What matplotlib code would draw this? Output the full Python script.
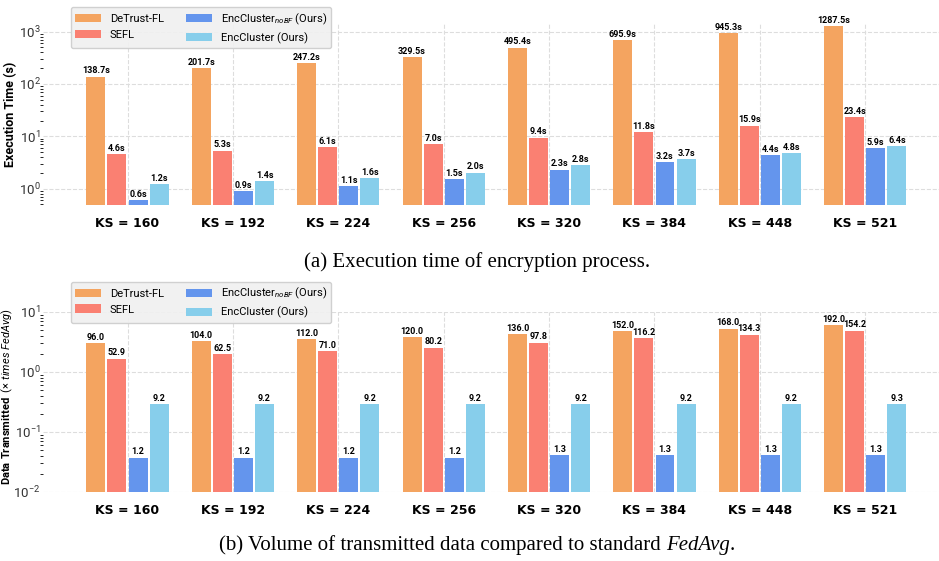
import numpy as np
import matplotlib
matplotlib.use("Agg")
import matplotlib.pyplot as plt

# --- Data ---
KS = [160, 192, 224, 256, 320, 384, 448, 521]
METHODS = ["DeTrust-FL", "SEFL", r"EncCluster$_{noBF}$ (Ours)", "EncCluster (Ours)"]
COLORS = ["#F4A460", "#FA8072", "#6495ED", "#87CEEB"]

# execution time (s)
time_detrust = [138.7, 201.7, 247.2, 329.5, 495.4, 695.9, 945.3, 1287.5]
time_sefl = [4.6, 5.3, 6.1, 7.0, 9.4, 11.8, 15.9, 23.4]
time_nobf = [0.6, 0.9, 1.1, 1.5, 2.3, 3.2, 4.4, 5.9]
time_enc = [1.2, 1.4, 1.6, 2.0, 2.8, 3.7, 4.8, 6.4]

# transmitted data (MB), bars shown relative to FedAvg
FEDAVG_MB = 32.0
data_detrust = [96.0, 104.0, 112.0, 120.0, 136.0, 152.0, 168.0, 192.0]
data_sefl = [52.9, 62.5, 71.0, 80.2, 97.8, 116.2, 134.3, 154.2]
data_nobf = [1.2, 1.2, 1.2, 1.2, 1.3, 1.3, 1.3, 1.3]
data_enc = [9.2, 9.2, 9.2, 9.2, 9.2, 9.2, 9.2, 9.3]

# --- Style ---
plt.rcParams['font.family'] = ['Roboto', 'DejaVu Sans']
plt.rcParams['mathtext.fontset'] = 'custom'
plt.rcParams['mathtext.rm'] = 'Roboto'
plt.rcParams['mathtext.it'] = 'Roboto:italic'
plt.rcParams['mathtext.bf'] = 'Roboto:bold'

LABEL_FONT = ['Liberation Sans Narrow', 'Roboto', 'DejaVu Sans']

fig = plt.figure(figsize=(9.39, 5.61), dpi=100)
ax_top = fig.add_axes([0.046, 0.6346, 0.954, 0.3226])
ax_bot = fig.add_axes([0.046, 0.123, 0.954, 0.321])

x = np.arange(len(KS))
offsets = [-0.3, -0.1, 0.1, 0.3]
width = 0.18


def draw_panel(ax, series, labels, fmt, legend_y):
    for i, (vals, lab) in enumerate(zip(series, labels)):
        bars = ax.bar(x + offsets[i], vals, width, color=COLORS[i],
                      label=METHODS[i], zorder=3)
        for b, t in zip(bars, lab):
            ax.text(b.get_x() + b.get_width() / 2, b.get_height() * 1.06,
                    fmt.format(t), ha='center', va='bottom', fontsize=6.5,
                    fontweight='bold', family=LABEL_FONT, clip_on=False,
                    zorder=4)
    ax.set_yscale('log')
    ax.set_xlim(-0.8, 7.7)
    ax.set_xticks(x)
    ax.set_xticklabels([f"KS = {k}" for k in KS], fontweight='bold',
                       fontsize=9, family='DejaVu Sans')
    ax.tick_params(axis='both', length=0)
    ax.tick_params(axis='x', pad=9)
    ax.tick_params(axis='y', labelsize=9.5, labelcolor='#333333', pad=2)
    for s in ax.spines.values():
        s.set_visible(False)
    ax.grid(True, which='major', linestyle='--', color='#dddddd',
            linewidth=0.8, zorder=0)
    ax.set_axisbelow(True)
    leg = ax.legend(loc='upper left', bbox_to_anchor=(0.031, legend_y),
                    ncol=2, fontsize=8, handlelength=2.3, handleheight=0.8,
                    columnspacing=2.0, frameon=True, fancybox=True,
                    borderaxespad=0)
    leg.get_frame().set_facecolor('#f0f0f0')
    leg.get_frame().set_edgecolor('#cccccc')
    leg.get_frame().set_alpha(0.9)


# --- (a) execution time ---
draw_panel(ax_top, [time_detrust, time_sefl, time_nobf, time_enc],
           [time_detrust, time_sefl, time_nobf, time_enc], "{:.1f}s", 1.094)
ax_top.set_ylim(0.485, 1400)
ax_top.set_ylabel("Execution Time (s)", fontweight='bold', fontsize=9)
ax_top.yaxis.set_label_coords(-0.029, 0.5)

# --- (b) transmitted data ---
raw = [data_detrust, data_sefl, data_nobf, data_enc]
rel = [[v / FEDAVG_MB for v in s] for s in raw]
draw_panel(ax_bot, rel, raw, "{:.1f}", 1.167)
ax_bot.set_ylim(0.01, 10)
ax_bot.set_ylabel(r"$\mathbf{Data\ Transmitted}$  $(\times\ \mathit{times\ FedAvg})$",
                  fontsize=8)
ax_bot.yaxis.set_label_coords(-0.031, 0.53)

# --- captions ---
fig.text(0.508, 0.533, "(a) Execution time of encryption process.",
         ha='center', va='center', fontsize=15, family='Liberation Serif')

# caption (b): regular part + italic FedAvg, laid out side by side
fig.canvas.draw()
renderer = fig.canvas.get_renderer()
parts = [("(b) Volume of transmitted data compared to standard ", 'normal'),
         ("FedAvg", 'italic'), (".", 'normal')]
texts = [fig.text(0, 0.0285, p, ha='left', va='center', fontsize=15,
                  family='Liberation Serif', style=st) for p, st in parts]
widths = [t.get_window_extent(renderer).width for t in texts]
total = sum(widths)
start = 0.508 * fig.bbox.width - total / 2
for t, w in zip(texts, widths):
    t.set_x(start / fig.bbox.width)
    start += w

fig.savefig("out.png", dpi=100)
